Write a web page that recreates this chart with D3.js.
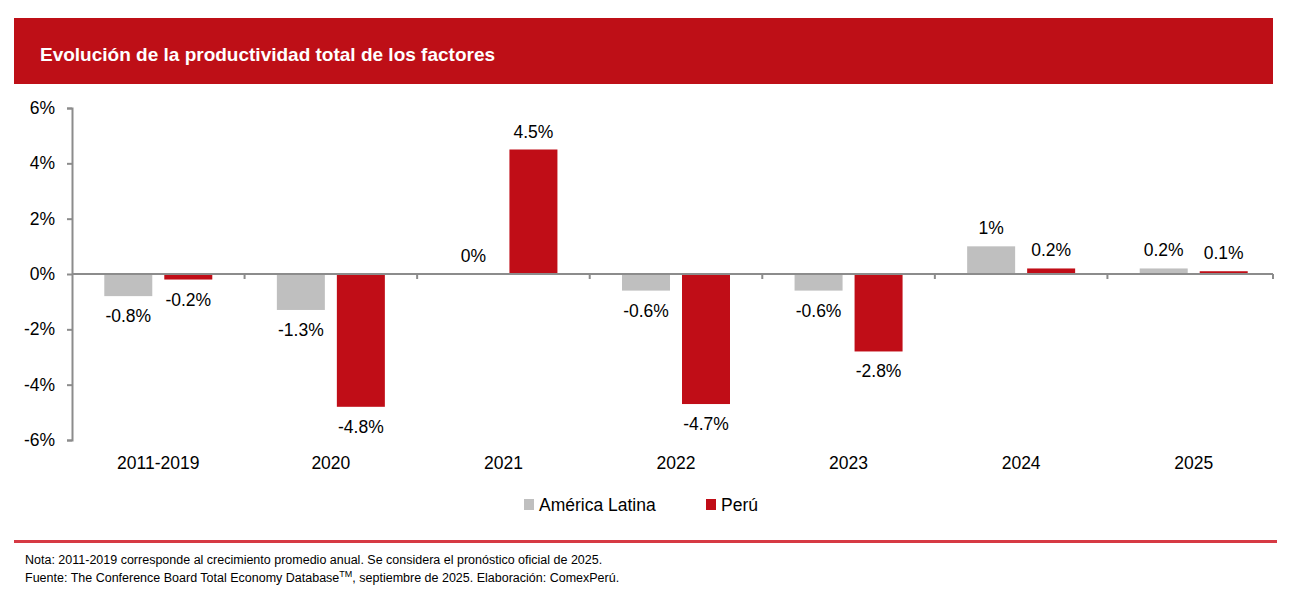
<!DOCTYPE html>
<html>
<head>
<meta charset="utf-8">
<script src="https://cdnjs.cloudflare.com/ajax/libs/d3/7.8.5/d3.min.js"></script>
<style>
  body { margin: 0; background: #fff; }
  text { font-family: "Liberation Sans", Arial, sans-serif; fill: #000; }
  .axis path, .axis line { stroke: #8c8c8c; stroke-width: 2; }
</style>
</head>
<body>
<div id="chart"></div>
<script>
// categories and series
var categories = ["2011-2019", "2020", "2021", "2022", "2023", "2024", "2025"];
var seriesNames = ["América Latina", "Perú"];
var latam = [-0.8, -1.3, 0, -0.6, -0.6, 1, 0.2];
var peru = [-0.2, -4.8, 4.5, -4.7, -2.8, 0.2, 0.1];
var latamLabels = ["-0.8%", "-1.3%", "0%", "-0.6%", "-0.6%", "1%", "0.2%"];
var peruLabels = ["-0.2%", "-4.8%", "4.5%", "-4.7%", "-2.8%", "0.2%", "0.1%"];
var yTicks = [-6, -4, -2, 0, 2, 4, 6];

var svgWidth = 1297;
var svgHeight = 606;
var colors = ["#bfbfbf", "#c00d17"];

var svg = d3.select("#chart").append("svg")
    .attr("width", svgWidth)
    .attr("height", svgHeight);

// header band
svg.append("rect")
    .attr("x", 14).attr("y", 18)
    .attr("width", 1259).attr("height", 66)
    .attr("fill", "#be0f17");

svg.append("text")
    .attr("x", 40).attr("y", 61)
    .style("font-size", "19px")
    .style("font-weight", "bold")
    .style("fill", "#fff")
    .text("Evolución de la productividad total de los factores");

// chart area (bands run a bit past the axis end, as in the original)
var plotLeft = 72, plotRight = 1273, bandEnd = 1280, plotTop = 108, plotBottom = 440;

var xScale = d3.scaleBand()
    .domain(categories)
    .range([plotLeft, bandEnd]);

var yScale = d3.scaleLinear()
    .domain([-6, 6])
    .range([plotBottom, plotTop]);

// y axis
var yAxis = d3.axisLeft(yScale)
    .tickValues(yTicks)
    .tickSize(5)
    .tickPadding(12)
    .tickFormat(d => d + "%");

var yG = svg.append("g")
    .attr("class", "axis")
    .attr("transform", `translate(${plotLeft}, 0)`)
    .call(yAxis);
yG.selectAll("text")
    .style("font-size", "17.5px")
    .style("font-family", "Liberation Sans, Arial, sans-serif")
    .style("fill", "#000");

// bars
var bandW = xScale.bandwidth();
var barW = 48;
var offsets = [-30, 30];
var data = [latam, peru];
var labels = [latamLabels, peruLabels];

data.forEach(function(series, s) {
    svg.append("g").selectAll("rect")
        .data(series)
        .enter()
        .append("rect")
        .attr("x", (d, i) => xScale(categories[i]) + bandW / 2 + offsets[s] - barW / 2)
        .attr("y", d => yScale(Math.max(0, d)))
        .attr("width", barW)
        .attr("height", d => Math.abs(yScale(d) - yScale(0)))
        .attr("fill", colors[s]);

    svg.append("g").selectAll("text")
        .data(series)
        .enter()
        .append("text")
        .attr("x", (d, i) => xScale(categories[i]) + bandW / 2 + offsets[s])
        .attr("y", d => d < 0 ? yScale(d) + 26 : yScale(d) - 12)
        .attr("text-anchor", "middle")
        .style("font-size", "17.5px")
        .text((d, i) => labels[s][i]);
});

// x axis at zero line with category boundary ticks
var zeroY = yScale(0);
var xG = svg.append("g").attr("class", "axis");
xG.append("line")
    .attr("x1", plotLeft).attr("x2", plotRight)
    .attr("y1", zeroY).attr("y2", zeroY);
xG.selectAll("line.tick")
    .data(categories)
    .enter()
    .append("line")
    .attr("class", "tick")
    .attr("x1", d => Math.min(xScale(d) + bandW, plotRight))
    .attr("x2", d => Math.min(xScale(d) + bandW, plotRight))
    .attr("y1", zeroY).attr("y2", zeroY + 5);

// category labels
svg.append("g").selectAll("text")
    .data(categories)
    .enter()
    .append("text")
    .attr("x", d => xScale(d) + bandW / 2)
    .attr("y", 469)
    .attr("text-anchor", "middle")
    .style("font-size", "17.5px")
    .text(d => d);

// legend
var legendX = [524, 706];
seriesNames.forEach(function(name, s) {
    svg.append("rect")
        .attr("x", legendX[s]).attr("y", 499)
        .attr("width", 10).attr("height", 11)
        .attr("fill", colors[s]);
    svg.append("text")
        .attr("x", legendX[s] + 15).attr("y", 511)
        .style("font-size", "17.5px")
        .text(name);
});

// footer line
svg.append("rect")
    .attr("x", 14).attr("y", 540)
    .attr("width", 1263).attr("height", 3)
    .attr("fill", "#d63a44");

svg.append("text")
    .attr("x", 25).attr("y", 564)
    .style("font-size", "12.5px")
    .text("Nota: 2011-2019 corresponde al crecimiento promedio anual. Se considera el pronóstico oficial de 2025.");

var fuente = svg.append("text")
    .attr("x", 25).attr("y", 582)
    .style("font-size", "12.5px");
fuente.append("tspan").text("Fuente: The Conference Board Total Economy Database");
fuente.append("tspan").attr("dy", -5).style("font-size", "9px").text("TM");
fuente.append("tspan").attr("dy", 5).text(", septiembre de 2025. Elaboración: ComexPerú.");
</script>
</body>
</html>
